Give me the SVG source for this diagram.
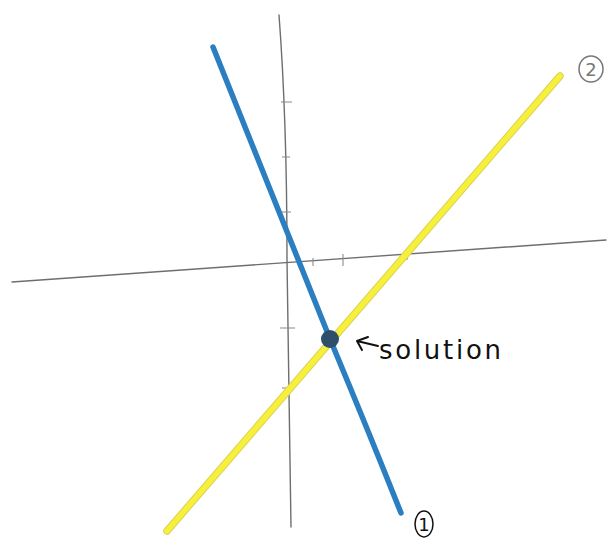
<svg xmlns="http://www.w3.org/2000/svg" width="609" height="545" viewBox="0 0 609 545">
<style>
.axis{fill:none;stroke:#6e6e6e;stroke-width:1.4;stroke-linecap:round}
.tick{fill:none;stroke:#8a8a8a;stroke-width:1.1}
.hand{font-family:"DejaVu Sans","Liberation Sans",sans-serif;}
</style>
<rect width="609" height="545" fill="#ffffff"/>
<g id="axes">
<path class="axis" d="M12,282 L606,240"/>
<path class="axis" d="M279,15 Q287,120 287,260 L291,527"/>
<path class="tick" d="M281,102 L292,102 M282,157 L290,157 M282,212 L291,212 M280,328 L295,328 M282,388 L294,388 M313,258 L313,266 M343,254 L343,266 M407,250 L407,260"/>
</g>
<g id="line2">
<path d="M167,531 L560,76" fill="none" stroke="#d8d25a" stroke-width="7.5" stroke-linecap="round"/>
<path d="M167,531 L560,76" fill="none" stroke="#f7f03a" stroke-width="5.5" stroke-linecap="round"/>
</g>
<g id="line1">
<path d="M213,47 Q270,190 330,339 Q368,430 401,513" fill="none" stroke="#2b7fc0" stroke-width="5.5" stroke-linecap="round"/>
</g>
<g id="solution">
<circle cx="330" cy="339" r="9" fill="#2e4e6c"/>
<path d="M378,346 L357,341 M357,341 L368,337 M357,341 L362,350" fill="none" stroke="#111" stroke-width="2" stroke-linecap="round"/>
<text class="hand" x="379" y="359" font-size="26" fill="#111" textLength="122" lengthAdjust="spacing">solution</text>
</g>
<g id="label1">
<ellipse cx="424" cy="524" rx="9" ry="13" fill="none" stroke="#111" stroke-width="1.5"/>
<text class="hand" x="424" y="531" font-size="18" fill="#111" text-anchor="middle">1</text>
</g>
<g id="label2">
<ellipse cx="591" cy="69" rx="12" ry="13" fill="none" stroke="#777" stroke-width="1.5"/>
<text class="hand" x="591" y="76" font-size="18" fill="#777" text-anchor="middle">2</text>
</g>
</svg>
